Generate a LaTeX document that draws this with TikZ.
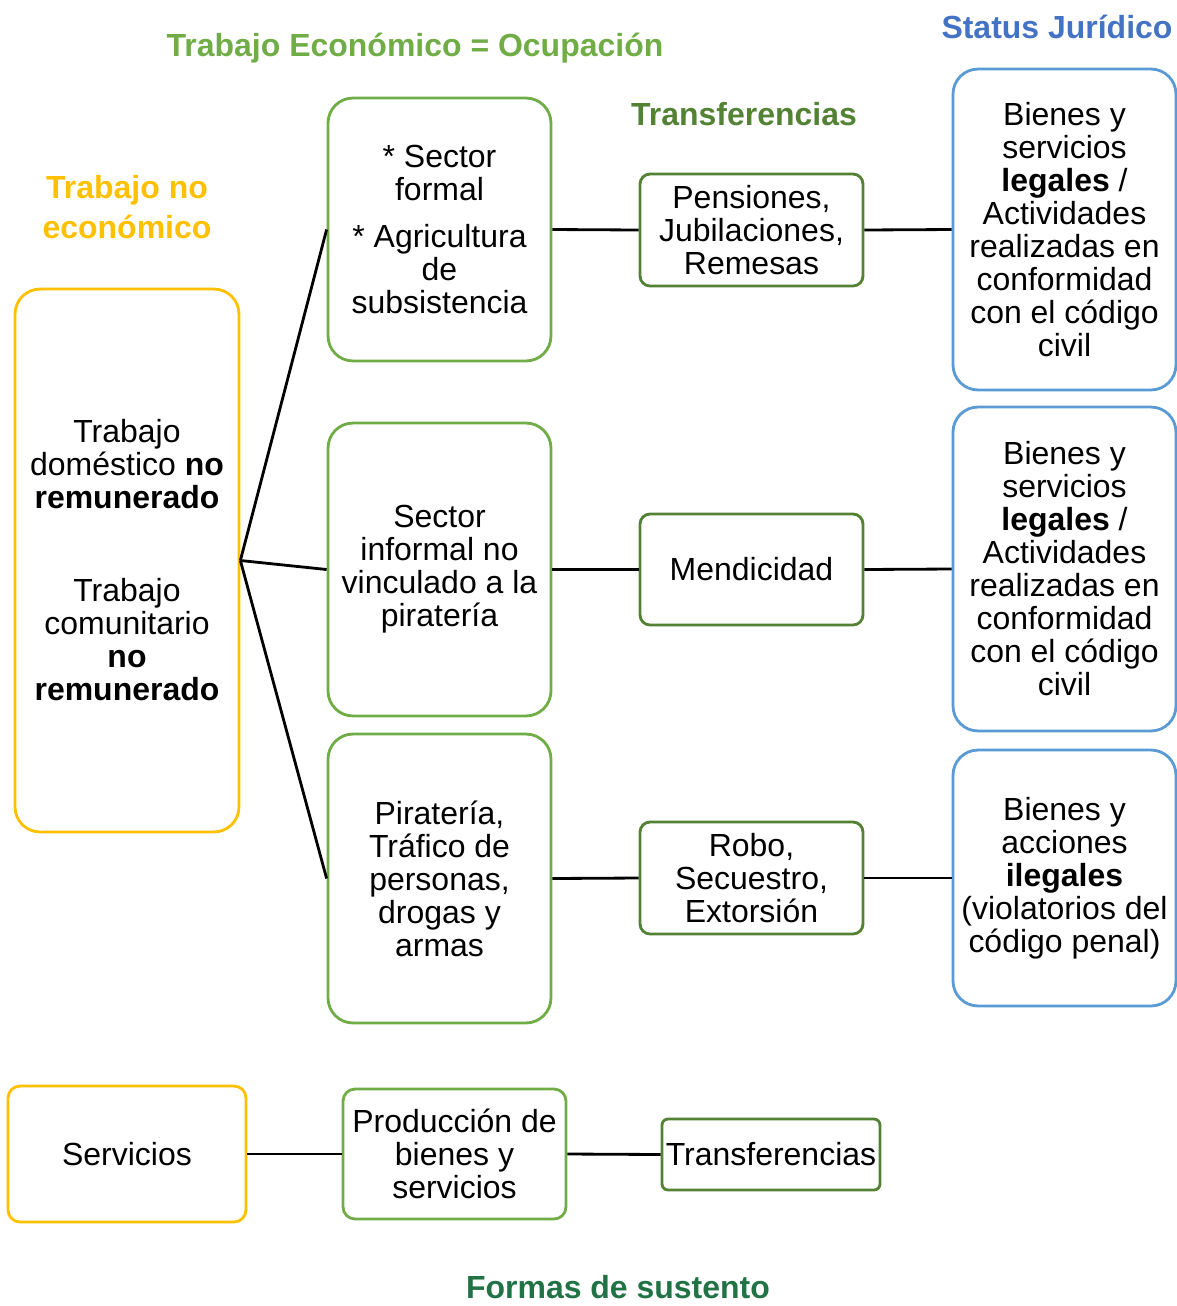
\documentclass[tikz,border=0pt]{standalone}
\usepackage{fontspec}
\setmainfont{Liberation Sans}
\definecolor{lgreen}{RGB}{112,173,71}
\definecolor{dgreen}{RGB}{84,130,53}
\definecolor{yel}{RGB}{255,192,0}
\definecolor{bbox}{RGB}{91,155,213}
\definecolor{btitle}{RGB}{68,114,196}
\definecolor{fgreen}{RGB}{33,115,70}
\tikzset{
  base/.style={draw, line width=1.6pt, align=center, inner sep=0pt, fill=white,
    font=\fontsize{18.2pt}{18.78pt}\selectfont},
  bigbox/.style={base, rounded corners=0.5cm},
  ybox/.style={bigbox, draw=yel},
  gbox/.style={bigbox, draw=lgreen},
  bluebox/.style={bigbox, draw=bbox},
  mbox/.style={base, draw=dgreen, rounded corners=0.2cm},
  hdr/.style={font=\bfseries\fontsize{18.2pt}{22.7pt}\selectfont, align=center, inner sep=0pt},
  conn/.style={line width=1.6pt, black}
}
\begin{document}
\begin{tikzpicture}[x=0.02cm, y=-0.02cm]
\useasboundingbox (0,0) rectangle (1177,1306);
% headers
\node[hdr, text=lgreen] (h1) at (415,48) {Trabajo Económico = Ocupación};
\node[hdr, text=btitle] (h2) at (1057,27) {Status Jurídico};
\node[hdr, text=dgreen] (h3) at (744,114) {Transferencias};
\node[hdr, text=yel] (h4) at (127,207) {Trabajo no\\económico};
\node[hdr, text=fgreen] (h5) at (618,1287) {Formas de sustento};
% left box
\node[ybox, minimum width=4.48cm, minimum height=10.86cm] (yb) at (127,560.5)
  {Trabajo\\doméstico \textbf{no}\\\textbf{remunerado}\\[1.2cm]Trabajo\\comunitario\\\textbf{no}\\\textbf{remunerado}};
% green boxes
\node[gbox, minimum width=4.46cm, minimum height=5.26cm] (g1) at (439.5,229.5)
  {* Sector\\formal\\[0.28cm]* Agricultura\\de\\subsistencia};
\node[gbox, minimum width=4.46cm, minimum height=5.86cm] (g2) at (439.5,569.5)
  {Sector\\informal no\\vinculado a la\\piratería};
\node[gbox, minimum width=4.46cm, minimum height=5.78cm] (g3) at (439.5,878.5)
  {Piratería,\\Tráfico de\\personas,\\drogas y\\armas};
% middle boxes
\node[mbox, minimum width=4.46cm, minimum height=2.24cm] (m1) at (751.5,230)
  {Pensiones,\\Jubilaciones,\\Remesas};
\node[mbox, minimum width=4.46cm, minimum height=2.22cm] (m2) at (751.5,569.5)
  {Mendicidad};
\node[mbox, minimum width=4.46cm, minimum height=2.24cm] (m3) at (751.5,878)
  {Robo,\\Secuestro,\\Extorsión};
% blue boxes
\node[bluebox, minimum width=4.46cm, minimum height=6.42cm] (b1) at (1064.5,229.5)
  {Bienes y\\servicios\\\textbf{legales} /\\Actividades\\realizadas en\\conformidad\\con el código\\civil};
\node[bluebox, minimum width=4.46cm, minimum height=6.48cm] (b2) at (1064.5,569)
  {Bienes y\\servicios\\\textbf{legales} /\\Actividades\\realizadas en\\conformidad\\con el código\\civil};
\node[bluebox, minimum width=4.46cm, minimum height=5.12cm] (b3) at (1064.5,878)
  {Bienes y\\acciones\\\textbf{ilegales}\\(violatorios del\\código penal)};
% bottom legend
\node[base, draw=yel, rounded corners=0.24cm, minimum width=4.76cm, minimum height=2.72cm] (sv) at (127,1154) {Servicios};
\node[base, draw=lgreen, rounded corners=0.24cm, minimum width=4.46cm, minimum height=2.6cm] (pb) at (454.5,1154) {Producción de\\bienes y\\servicios};
\node[base, draw=dgreen, rounded corners=0.12cm, minimum width=4.36cm, minimum height=1.42cm] (tr) at (771,1154.5) {Transferencias};
% connectors
\draw[conn] (yb.east) -- (g1.west);
\draw[conn] (yb.east) -- (g2.west);
\draw[conn] (yb.east) -- (g3.west);
\draw[conn] (g1.east) -- (m1.west);
\draw[conn] (m1.east) -- (b1.west);
\draw[conn] (g2.east) -- (m2.west);
\draw[conn] (m2.east) -- (b2.west);
\draw[conn] (g3.east) -- (m3.west);
\draw[conn] (m3.east) -- (b3.west);
\draw[conn] (sv.east) -- (pb.west);
\draw[conn] (pb.east) -- (tr.west);
\end{tikzpicture}
\end{document}
